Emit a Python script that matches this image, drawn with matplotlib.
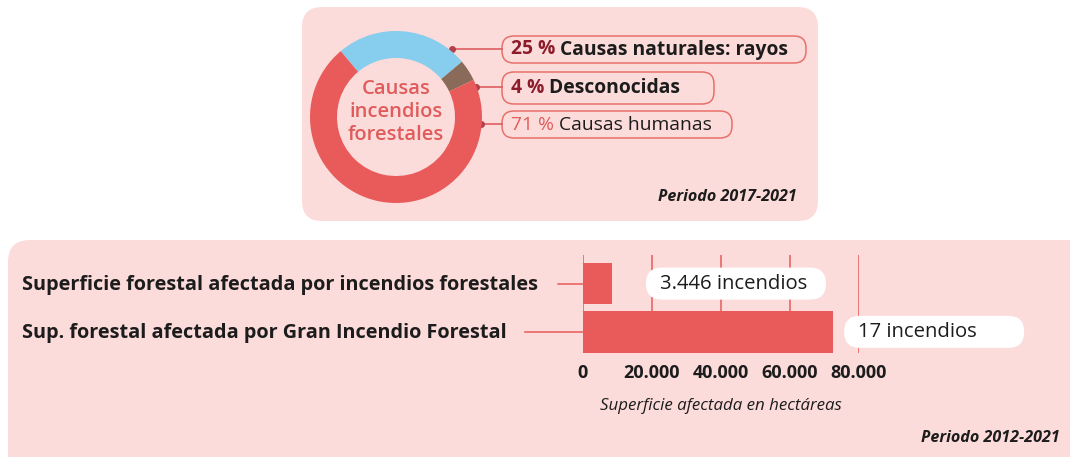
import numpy as np
import matplotlib
matplotlib.use('Agg')
import matplotlib.pyplot as plt
from matplotlib.patches import FancyBboxPatch
from matplotlib.ticker import FuncFormatter

plt.rcParams['font.family'] = ['Open Sans', 'DejaVu Sans']

# Data
causes = ['Causas naturales: rayos', 'Desconocidas', 'Causas humanas']
cause_pct = [25, 4, 71]
areas = ['Superficie forestal afectada por incendios forestales',
         'Sup. forestal afectada por Gran Incendio Forestal']
area_ha = [8400, 72500]
fire_counts = ['3.446 incendios', '17 incendios']
xticks = [0, 20000, 40000, 60000, 80000]

# Colours
pink = '#fcdcda'
red = '#e85b5a'
blue = '#86cdee'
brown = '#8a6a58'
darkred = '#8c1c2c'
ink = '#1c1c1c'

W, H = 1070, 457
fig = plt.figure(figsize=(W / 100, H / 100), dpi=100)

# background axes in pixel coords (origin top-left)
bg = fig.add_axes([0, 0, 1, 1])
bg.set_xlim(0, W)
bg.set_ylim(H, 0)
bg.axis('off')


def rbox(axp, x0, y0, x1, y1, r, fc, ec='none', lw=0):
    p = FancyBboxPatch((x0 + r, y0 + r), x1 - x0 - 2 * r, y1 - y0 - 2 * r,
                       boxstyle='round,pad=%g' % r, fc=fc, ec=ec, lw=lw)
    axp.add_patch(p)
    return p


def fig_rect(x0, y0, x1, y1):
    # pixel box -> figure fraction rect
    return [x0 / W, (H - y1) / H, (x1 - x0) / W, (y1 - y0) / H]


# panels
rbox(bg, 302, 7, 818, 221, 20, pink)
rbox(bg, 8, 240, 1100, 500, 22, pink)

# ---- donut ----
cx, cy, R = 396, 117, 86
ax_pie = fig.add_axes(fig_rect(cx - R, cy - R, cx + R, cy + R))
ax_pie.pie(cause_pct, colors=[blue, brown, red], startangle=130, counterclock=False,
           radius=1, wedgeprops=dict(width=27 / R, linewidth=0))
ax_pie.set_xlim(-1, 1)
ax_pie.set_ylim(-1, 1)
ax_pie.set_aspect('equal')
ax_pie.axis('off')
ax_pie.text(0, 0.06, 'Causas\nincendios\nforestales', ha='center', va='center',
            color='#e05c5c', fontsize=14.5, fontweight='semibold', linespacing=1.2)

# legend pills
pill_boxes = [(502, 36, 806, 63), (502, 72, 714, 104), (502, 111, 732, 138)]
dots = [(452, 49), (476, 87), (481, 124)]
pct_colors = [darkred, darkred, '#e05c5c']
weights = ['bold', 'bold', 'medium']
for i in range(3):
    x0, y0, x1, y1 = pill_boxes[i]
    rbox(bg, x0, y0, x1, y1, 12, pink, ec='#e8706a', lw=1.1)
    dx, dy = dots[i]
    bg.plot([dx, x0], [dy, dy], color='#d9535a', lw=1.1)
    bg.plot(dx, dy, 'o', ms=4, color='#b5404a')
    yc = (y0 + y1) / 2
    t = bg.text(x0 + 9, yc, '%d %%' % cause_pct[i], color=pct_colors[i], fontsize=13.9,
                fontweight=weights[i], va='center', ha='left')
    bg.annotate(' ' + causes[i], xycoords=t, xy=(1, 0.5), va='center', ha='left',
                color=ink, fontsize=13.9, fontweight=weights[i])

bg.text(797, 197, 'Periodo 2017-2021', ha='right', va='center', fontsize=11.6,
        fontweight='bold', style='italic', color=ink)

# ---- bars ----
ax = fig.add_axes(fig_rect(583, 255.3, 859, 352.6))
ypos = np.arange(len(areas))
ax.barh(ypos, area_ha, height=0.86, color=red, zorder=3)
ax.set_xlim(0, 80000)
ax.set_ylim(1.43, -0.586)
ax.set_facecolor('none')
for s in ax.spines.values():
    s.set_visible(False)
ax.set_xticks(xticks)
ax.xaxis.set_major_formatter(FuncFormatter(lambda v, p: '{:,.0f}'.format(v).replace(',', '.')))
ax.tick_params(axis='x', length=0, pad=8, labelsize=13, labelcolor=ink)
for lab in ax.get_xticklabels():
    lab.set_fontweight('bold')
ax.set_yticks([])
ax.grid(axis='x', color=red, lw=1.1, zorder=1)
ax.set_xlabel('Superficie afectada en hectáreas', fontsize=12.2, style='italic',
              color=ink, labelpad=12)

# category labels with leader lines
line_start = [558, 525]
ytrans = ax.get_yaxis_transform()
for i, name in enumerate(areas):
    xa = (22 - 583) / (859 - 583)
    ax.text(xa, ypos[i] + 0.03, name, transform=ytrans, ha='left', va='center',
            fontsize=14.3, fontweight='bold', color=ink, clip_on=False)
    xs = (line_start[i] - 583) / (859 - 583)
    ax.plot([xs, 0], [ypos[i], ypos[i]], transform=ytrans, color=red, lw=1.1,
            clip_on=False)

# count pills next to the bars, on an overlay so the grid stays behind them
fg = fig.add_axes([0, 0, 1, 1])
fg.set_xlim(0, W)
fg.set_ylim(H, 0)
fg.axis('off')
gaps = [34, 11]
for i, lab in enumerate(fire_counts):
    xend, yc = ax.transData.transform((area_ha[i], ypos[i]))
    px = xend + gaps[i]
    py = H - yc
    rbox(fg, px, py - 16, px + 180, py + 16, 15.9, 'white')
    fg.text(px + 14, py, lab, ha='left', va='center', fontsize=14.6, color=ink)

fg.text(1060, 438, 'Periodo 2012-2021', ha='right', va='center', fontsize=11.6,
        fontweight='bold', style='italic', color=ink)

fig.savefig('out.png', dpi=100)
